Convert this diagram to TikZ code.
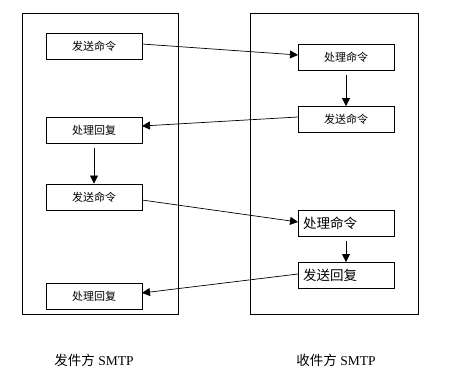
\documentclass[tikz,border=0pt]{standalone}
\usepackage{fontspec}
\setmainfont{Liberation Serif}
\newfontfamily\cjk{Noto Sans CJK SC}
\usetikzlibrary{arrows.meta}
\begin{document}
\begin{tikzpicture}[x=1pt,y=-1pt,
  frame/.style={draw,line width=0.9pt},
  box/.style={draw,line width=0.9pt,minimum width=96pt,minimum height=26pt,inner sep=0pt,font=\cjk\fontsize{11pt}{12pt}\selectfont},
  boxl/.style={box,font=\cjk\fontsize{13.5pt}{14pt}\selectfont,text width=86pt,align=left},
  conn/.style={line width=0.7pt,-{Triangle[length=8pt,width=8pt]}},
  lab/.style={font=\fontsize{13.5pt}{15pt}\selectfont}]
\useasboundingbox (0,0) rectangle (449,373);
\fill[white] (0,0) rectangle (449,373);
\node[frame,minimum width=156pt,minimum height=301pt,inner sep=0pt] (L) at (100,163.5) {};
\node[frame,minimum width=168pt,minimum height=301pt,inner sep=0pt] (R) at (334,163.5) {};
\node[box] (a1) at (94,46.5) {发送命令};
\node[box] (a2) at (94,130) {处理回复};
\node[box] (a3) at (94,197) {发送命令};
\node[box] (a4) at (94,296) {处理回复};
\node[box] (b1) at (346,57) {处理命令};
\node[box] (b2) at (346,119.5) {发送命令};
\node[boxl] (b3) at (346,223.5) {处理命令};
\node[boxl] (b4) at (346,275.5) {发送回复};
\coordinate (a1o) at (142,44);
\coordinate (b1i) at (298,55);
\coordinate (b2o) at (298,117);
\coordinate (a2i) at (142,126);
\coordinate (a3o) at (142,200);
\coordinate (b3i) at (298,222);
\coordinate (b4o) at (298,274);
\coordinate (a4i) at (142,293);
\draw[conn] (a1o) -- (b1i);
\draw[conn] (b2o) -- (a2i);
\draw[conn] (a3o) -- (b3i);
\draw[conn] (b4o) -- (a4i);
\draw[conn] ([yshift=-5pt]a2.south) -- (a3.north);
\draw[conn] ([yshift=-5pt]b1.south) -- (b2.north);
\draw[conn] ([yshift=-4pt]b3.south) -- (b4.north);
\node[lab] (ls) at (94,360) {{\cjk 发件方} SMTP};
\node[lab] (rs) at (336,360) {{\cjk 收件方} SMTP};
\end{tikzpicture}
\end{document}
